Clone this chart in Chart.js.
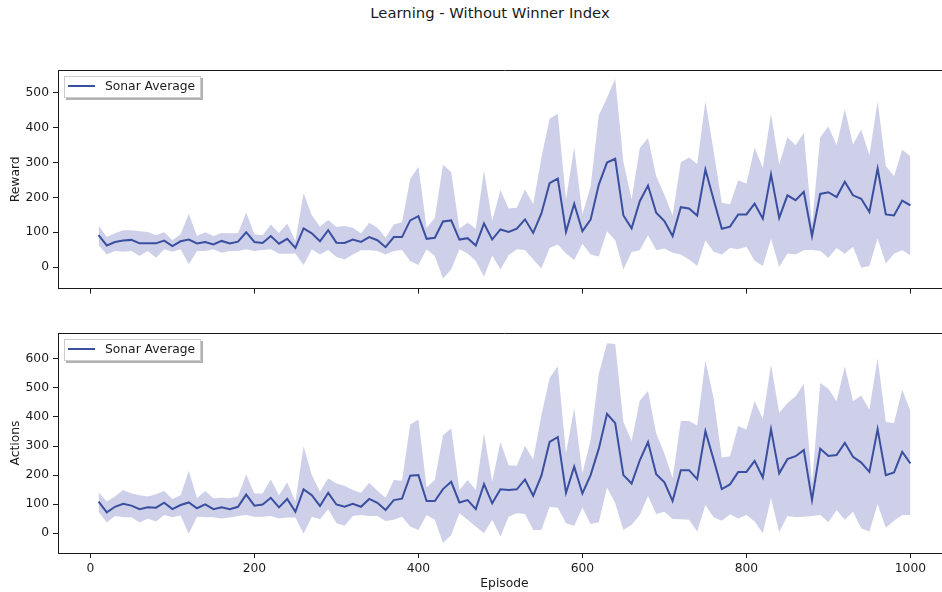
<!DOCTYPE html>
<html>
<head>
<meta charset="utf-8">
<title>Learning - Without Winner Index</title>
<script src="https://cdn.jsdelivr.net/npm/chart.js@4.4.1/dist/chart.umd.min.js"></script>
<style>
  html, body { margin: 0; padding: 0; background: #fff; overflow: hidden; width: 942px; height: 592px; }
  #title { position: absolute; left: 0; top: 4px; width: 980px; text-align: center;
           font: 14.8px "DejaVu Sans", sans-serif; color: #1a1a1a; }
  canvas { position: absolute; left: 0; }
  #rewardCanvas { top: 0; }
  #actionsCanvas { top: 300px; }
</style>
</head>
<body>
<div id="title">Learning - Without Winner Index</div>
<canvas id="rewardCanvas" width="960" height="300"></canvas>
<canvas id="actionsCanvas" width="960" height="292"></canvas>
<script>
// episodes on the x axis
const episodes = [
  10, 20, 30, 40, 50, 60, 70, 80, 90, 100, 110, 120, 130, 140, 150, 160, 170, 180, 190, 200,
  210, 220, 230, 240, 250, 260, 270, 280, 290, 300, 310, 320, 330, 340, 350, 360, 370, 380, 390, 400,
  410, 420, 430, 440, 450, 460, 470, 480, 490, 500, 510, 520, 530, 540, 550, 560, 570, 580, 590, 600,
  610, 620, 630, 640, 650, 660, 670, 680, 690, 700, 710, 720, 730, 740, 750, 760, 770, 780, 790, 800,
  810, 820, 830, 840, 850, 860, 870, 880, 890, 900, 910, 920, 930, 940, 950, 960, 970, 980, 990, 1000
];

const seriesLabel = 'Sonar Average';

const rewardMean = [
  92, 62, 72, 76, 78, 68, 68, 68, 76, 60, 74, 79, 68, 72, 65, 75, 68, 73, 100, 72,
  69, 89, 67, 81, 55, 111, 97, 74, 106, 70, 69, 79,
  72, 86, 77, 57, 86, 86, 134, 146, 81, 84, 131, 134, 79, 83, 62, 125, 79, 108,
  101, 110, 137, 98, 154, 241, 254, 101, 182, 103, 136, 237, 300, 311, 148, 111,
  189, 234, 156, 132, 89, 172, 168, 148, 280, 194, 110, 116, 151, 151, 182, 139,
  266, 141, 206, 192, 216, 89, 210, 215, 201, 245, 206, 196, 158, 283, 151, 148, 191, 177
];
const rewardUpper = [
  119, 86, 97, 106, 106, 103, 101, 91, 100, 77, 94, 153, 89, 100, 89, 98, 97, 97, 157, 94,
  91, 122, 98, 125, 75, 213, 149, 116, 135, 115, 118, 113,
  96, 127, 113, 84, 122, 129, 253, 288, 113, 141, 294, 273, 110, 127, 110, 277, 132, 221,
  168, 170, 223, 180, 314, 426, 440, 194, 345, 151, 232, 436, 486, 541, 302, 194,
  342, 371, 261, 208, 148, 301, 315, 296, 476, 333, 185, 180, 249, 239, 343, 285,
  440, 294, 373, 350, 386, 122, 373, 404, 350, 454, 352, 395, 321, 476, 290, 261, 337, 318
];
const rewardLower = [
  63, 36, 46, 44, 46, 32, 46, 27, 51, 44, 51, 8, 46, 46, 51, 41, 46, 46, 51, 46,
  49, 51, 38, 38, 39, 5, 51, 36, 49, 29, 22, 36,
  48, 48, 46, 36, 46, 49, 17, 6, 51, 32, -33, -7, 51, 39, 17, -28, 33, -7,
  34, 51, 49, 22, -4, 55, 65, 39, 20, 67, 36, 30, 103, 77, -7, 43,
  48, 91, 48, 53, 41, 36, 22, 3, 77, 44, 36, 55, 51, 58, 18, 3,
  81, 0, 39, 36, 48, 49, 46, 27, 55, 38, 58, -2, 3, 82, 10, 38, 48, 34
];

const actionsMean = [
  109, 72, 91, 101, 95, 83, 89, 88, 105, 83, 97, 106, 86, 99, 83, 89, 83, 91, 133, 95,
  99, 122, 89, 118, 74, 151, 131, 94, 139, 99, 91, 101,
  91, 118, 105, 80, 114, 119, 198, 200, 111, 111, 152, 177, 106, 114, 83, 169, 103, 151,
  149, 151, 185, 129, 198, 314, 331, 139, 229, 137, 200, 291, 411, 379, 200, 171,
  251, 314, 203, 175, 111, 217, 217, 186, 351, 254, 152, 168, 211, 211, 249, 192,
  358, 206, 255, 265, 286, 114, 291, 266, 269, 311, 263, 243, 211, 358, 200, 209, 280, 240
];
const actionsUpper = [
  141, 109, 126, 149, 137, 131, 126, 134, 145, 118, 131, 215, 120, 145, 120, 122, 120, 126, 202, 137,
  137, 185, 131, 175, 109, 299, 200, 143, 189, 171, 163, 149,
  139, 174, 146, 122, 183, 181, 374, 391, 158, 183, 337, 360, 149, 183, 149, 343, 177, 314,
  234, 232, 301, 254, 406, 534, 575, 274, 431, 206, 320, 549, 654, 651, 383, 317,
  457, 489, 343, 274, 189, 386, 386, 371, 594, 465, 261, 265, 369, 357, 455, 394,
  581, 415, 448, 471, 514, 171, 517, 497, 454, 575, 454, 474, 425, 603, 383, 379, 494, 421
];
const actionsLower = [
  74, 37, 59, 55, 55, 37, 51, 40, 63, 55, 61, -2, 57, 55, 55, 51, 54, 59, 63, 57,
  57, 59, 51, 54, 54, -2, 57, 48, 83, 34, 26, 59,
  63, 59, 59, 42, 46, 57, 23, 11, 63, 46, -34, -6, 69, 46, 23, 0, 46, -11,
  57, 69, 66, 11, 11, 91, 88, 34, 26, 88, 32, 38, 157, 103, 11, 29,
  63, 128, 66, 74, 49, 48, 46, 6, 97, 55, 43, 65, 51, 63, 40, 0,
  120, 3, 59, 55, 57, 59, 63, 38, 80, 46, 74, 17, 6, 101, 19, 43, 63, 63
];

const episodeTicks = [0, 200, 400, 600, 800, 1000];
const rewardTicks = [0, 100, 200, 300, 400, 500];
const actionsTicks = [0, 100, 200, 300, 400, 500, 600];

const lineColor = '#3a4fa0';
const bandColor = '#cdd0e8';
const inkColor = '#1a1a1a';
const fontFamily = '"DejaVu Sans", sans-serif';
const fontSize = 12.3;

const toPoints = vals => vals.map((v, i) => ({ x: episodes[i], y: v }));

// top spine + matplotlib style legend with shadow
const framePlugin = {
  id: 'frame',
  afterDraw(chart) {
    const { ctx, chartArea: a } = chart;
    ctx.save();
    ctx.strokeStyle = inkColor;
    ctx.lineWidth = 1;
    ctx.beginPath();
    ctx.moveTo(a.left, Math.round(a.top) + 0.5);
    ctx.lineTo(a.right, Math.round(a.top) + 0.5);
    ctx.stroke();

    const x = a.left + 6, y = a.top + 6, w = 137, h = 22;
    ctx.fillStyle = 'rgba(0,0,0,0.3)';
    ctx.fillRect(x + 2, y + 2, w, h);
    ctx.fillStyle = '#fff';
    ctx.fillRect(x, y, w, h);
    ctx.strokeStyle = '#ccc';
    ctx.strokeRect(x + 0.5, y + 0.5, w - 1, h - 1);
    ctx.strokeStyle = lineColor;
    ctx.lineWidth = 2;
    ctx.beginPath();
    ctx.moveTo(x + 4, y + h / 2 - 1);
    ctx.lineTo(x + 31, y + h / 2 - 1);
    ctx.stroke();
    ctx.fillStyle = inkColor;
    ctx.font = fontSize + 'px ' + fontFamily;
    ctx.textBaseline = 'middle';
    ctx.fillText(chart.data.datasets[0].label, x + 41, y + h / 2);
    ctx.restore();
  }
};

function makeChart(canvasId, opts) {
  return new Chart(document.getElementById(canvasId), {
    type: 'line',
    data: {
      datasets: [
        { label: seriesLabel, data: toPoints(opts.mean), borderColor: lineColor, borderWidth: 2,
          pointRadius: 0, fill: false, order: 0 },
        { label: 'upper', data: toPoints(opts.upper), borderWidth: 0, borderColor: bandColor,
          backgroundColor: bandColor, pointRadius: 0, fill: '+1', order: 1 },
        { label: 'lower', data: toPoints(opts.lower), borderWidth: 0, borderColor: bandColor,
          pointRadius: 0, fill: false, order: 2 }
      ]
    },
    options: {
      responsive: false,
      animation: false,
      devicePixelRatio: 1,
      elements: { line: { tension: 0 } },
      layout: { padding: { top: opts.padTop, bottom: opts.padBottom, left: 0, right: 9 } },
      plugins: { legend: { display: false }, tooltip: { enabled: false } },
      scales: {
        x: {
          type: 'linear',
          min: -39.5,
          max: 1049.5,
          afterBuildTicks: s => { s.ticks = episodeTicks.map(v => ({ value: v })); },
          afterFit: s => { s.height = opts.xHeight; },
          grid: { drawOnChartArea: false, drawTicks: true, tickLength: 5, color: inkColor },
          border: { color: inkColor, width: 1 },
          ticks: { display: opts.showX, color: inkColor, padding: 3, maxRotation: 0,
                   callback: v => String(v),
                   font: { family: fontFamily, size: fontSize } },
          title: { display: opts.showX, text: 'Episode', color: inkColor, padding: 0,
                   font: { family: fontFamily, size: fontSize } }
        },
        y: {
          min: opts.yMin,
          max: opts.yMax,
          afterBuildTicks: s => { s.ticks = opts.yTicks.map(v => ({ value: v })); },
          afterFit: s => { s.width = 58; },
          grid: { drawOnChartArea: false, drawTicks: true, tickLength: 5, color: inkColor },
          border: { color: inkColor, width: 1 },
          ticks: { color: inkColor, padding: 4, callback: v => String(v),
                   font: { family: fontFamily, size: fontSize } },
          title: { display: true, text: opts.yTitle, color: inkColor, padding: { top: 8, bottom: 0 },
                   font: { family: fontFamily, size: fontSize } }
        }
      }
    },
    plugins: [framePlugin]
  });
}

makeChart('rewardCanvas', {
  mean: rewardMean, upper: rewardUpper, lower: rewardLower,
  yTicks: rewardTicks, yMin: -62, yMax: 566, yTitle: 'Reward',
  showX: false, padTop: 70, padBottom: 0, xHeight: 11
});

makeChart('actionsCanvas', {
  mean: actionsMean, upper: actionsUpper, lower: actionsLower,
  yTicks: actionsTicks, yMin: -68, yMax: 689, yTitle: 'Actions',
  showX: true, padTop: 33, padBottom: 1, xHeight: 38
});
</script>
</body>
</html>
